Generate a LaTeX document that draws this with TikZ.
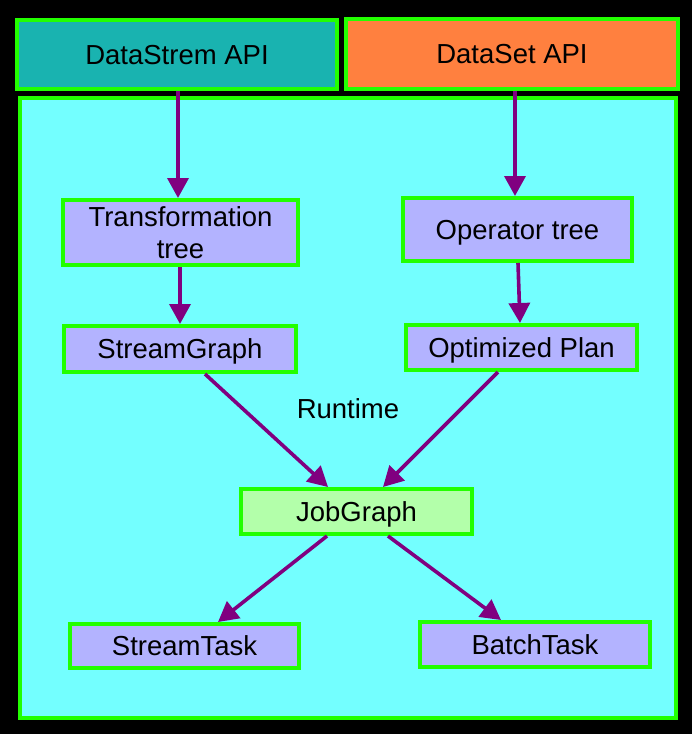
\documentclass[tikz,border=0pt]{standalone}
\usepackage{fontspec}
\setmainfont{Liberation Sans}
\usetikzlibrary{arrows.meta,calc}
\definecolor{tealbox}{HTML}{19B3B0}
\definecolor{orangebox}{HTML}{FF803F}
\definecolor{cyanbg}{HTML}{73FFFF}
\definecolor{lav}{HTML}{B3B3FF}
\definecolor{lgreen}{HTML}{B3FFAA}
\definecolor{gborder}{HTML}{22FF00}
\definecolor{purp}{HTML}{800080}
\begin{document}
\begin{tikzpicture}[x=1pt,y=-1pt,
  box/.style={draw=gborder, line width=4pt, inner sep=0pt, text=black,
    font=\fontsize{27.5}{32}\selectfont, align=center, text depth=0pt},
  arr/.style={draw=purp, line width=3.6pt, -{Triangle[length=20pt,width=21pt]}}]
\fill[black] (0,0) rectangle (692,734);
\useasboundingbox (0,0) rectangle (692,734);
% container
\draw[draw=gborder, line width=4pt, fill=cyanbg] (20,98) rectangle (676,718);
% top boxes
\node[box, fill=tealbox, minimum width=320pt, minimum height=69pt] (ds) at (177,54.5) {DataStrem API};
\node[box, fill=orangebox, minimum width=332pt, minimum height=70pt] (dset) at (512,54) {DataSet API};
% inner boxes
\node[box, fill=lav, minimum width=235pt, minimum height=65pt, text depth=] (tt) at (180.5,232.5) {Transformation\\tree};
\node[box, fill=lav, minimum width=229pt, minimum height=63pt] (ot) at (517.5,229.5) {Operator tree};
\node[box, fill=lav, minimum width=232pt, minimum height=46pt] (sg) at (180,349) {StreamGraph};
\node[box, fill=lav, minimum width=231pt, minimum height=45pt] (op) at (521.5,347.5) {Optimized Plan};
\node[box, fill=lgreen, minimum width=231pt, minimum height=45pt] (jg) at (356.5,511.5) {JobGraph};
\node[box, fill=lav, minimum width=229pt, minimum height=44pt] (st) at (184.5,646) {StreamTask};
\node[box, fill=lav, minimum width=230pt, minimum height=45pt] (bt) at (535,644.5) {BatchTask};
\node[font=\fontsize{27.5}{32}\selectfont, text=black] (rtl) at (348,409) {Runtime};
% arrows
\draw[arr] ($(ds.south)+(1,0)$) -- ($(tt.north)+(-2.5,0)$);
\draw[arr] ($(dset.south)+(3,0)$) -- ($(ot.north)+(-2.5,0)$);
\draw[arr] ($(tt.south)+(-0.5,0)$) -- ($(sg.north)+(0,0)$);
\draw[arr] ($(ot.south)+(0.5,0)$) -- ($(op.north)+(-1.5,0)$);
\draw[arr] ($(sg.south)+(25,0)$) -- ($(jg.north)+(-28.5,0)$);
\draw[arr] ($(op.south)+(-23.5,0)$) -- ($(jg.north)+(26.5,0)$);
\draw[arr] ($(jg.south)+(-29.5,0)$) -- ($(st.north)+(33.5,0)$);
\draw[arr] ($(jg.south)+(31.5,0)$) -- ($(bt.north)+(-34,0)$);
\end{tikzpicture}
\end{document}
